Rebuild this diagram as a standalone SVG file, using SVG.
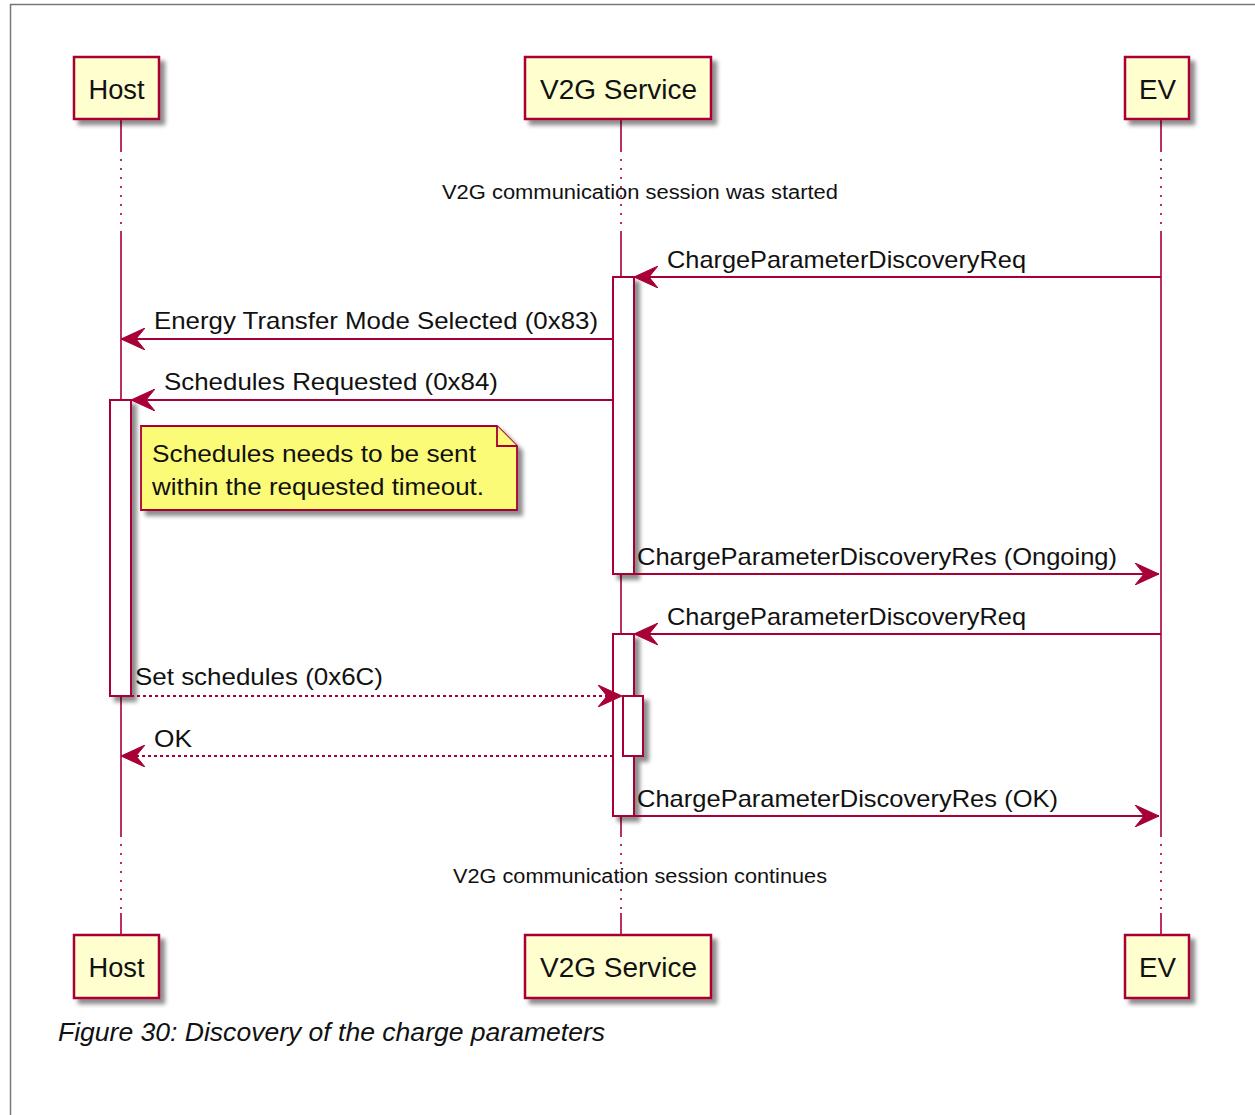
<svg xmlns="http://www.w3.org/2000/svg" width="1255" height="1115" viewBox="0 0 1255 1115">
<style>
.frame{fill:none;stroke:#777;stroke-width:1.5}
.pbox{fill:#FEFECE;stroke:#A80036;stroke-width:2.5}
.ptxt{font-family:"Liberation Sans",Arial,sans-serif;font-size:27px;fill:#111;text-anchor:middle}
.life{stroke:#A80036;stroke-width:1.6;fill:none}
.dot{stroke:#A80036;stroke-width:1.6;fill:none;stroke-dasharray:2,7}
.act{fill:#fff;stroke:#A80036;stroke-width:2}
.msg{stroke:#A80036;stroke-width:2;fill:none}
.dash{stroke:#A80036;stroke-width:1.8;fill:none;stroke-dasharray:3,3}
.head{fill:#A80036;stroke:#A80036;stroke-width:1}
.mtxt{font-family:"Liberation Sans",Arial,sans-serif;font-size:24px;fill:#111}
.dtxt{font-family:"Liberation Sans",Arial,sans-serif;font-size:20px;fill:#111;text-anchor:middle}
.note{fill:#FBFB77;stroke:#A80036;stroke-width:1.8}
.cap{font-family:"Liberation Sans",Arial,sans-serif;font-size:25px;font-style:italic;fill:#111}
</style>
<defs>
<filter id="sh" x="-20%" y="-20%" width="150%" height="150%">
<feGaussianBlur in="SourceAlpha" stdDeviation="2.2"/>
<feOffset dx="5" dy="5" result="b"/>
<feComponentTransfer><feFuncA type="linear" slope="0.45"/></feComponentTransfer>
<feMerge><feMergeNode/><feMergeNode in="SourceGraphic"/></feMerge>
</filter>
<marker id="ah" markerWidth="26" markerHeight="22" refX="24" refY="11" orient="auto" markerUnits="userSpaceOnUse">
<path d="M24,11 L0,0 L9,11 L0,22 Z" class="head"/>
</marker>
</defs>

<g id="frame">
<path class="frame" d="M10.5,1115 L10.5,4.5 L1255,4.5"/>
</g>

<g id="lifelines">
<path class="life" d="M121,120 V150 M121,232 V835 M121,913 V935"/>
<path class="dot" d="M121,150 V232 M121,835 V913"/>
<path class="life" d="M621,120 V150 M621,232 V835 M621,913 V935"/>
<path class="dot" d="M621,150 V232 M621,835 V913"/>
<path class="life" d="M1161,120 V150 M1161,232 V835 M1161,913 V935"/>
<path class="dot" d="M1161,150 V232 M1161,835 V913"/>
</g>

<g id="dividers">
<text class="dtxt" x="640" y="199" textLength="396" lengthAdjust="spacingAndGlyphs">V2G communication session was started</text>
<text class="dtxt" x="640" y="883" textLength="374" lengthAdjust="spacingAndGlyphs">V2G communication session continues</text>
</g>

<g id="host-top" filter="url(#sh)">
<rect class="pbox" x="74" y="57" width="85" height="62"/>
</g>
<text class="ptxt" x="116.5" y="99" textLength="56" lengthAdjust="spacingAndGlyphs">Host</text>
<g id="v2g-top" filter="url(#sh)">
<rect class="pbox" x="525" y="57" width="186" height="62"/>
</g>
<text class="ptxt" x="618.5" y="99" textLength="157" lengthAdjust="spacingAndGlyphs">V2G Service</text>
<g id="ev-top" filter="url(#sh)">
<rect class="pbox" x="1125" y="57" width="64" height="62"/>
</g>
<text class="ptxt" x="1157.5" y="99" textLength="37" lengthAdjust="spacingAndGlyphs">EV</text>

<g id="host-bottom" filter="url(#sh)">
<rect class="pbox" x="74" y="935" width="85" height="63"/>
</g>
<text class="ptxt" x="116.5" y="977" textLength="56" lengthAdjust="spacingAndGlyphs">Host</text>
<g id="v2g-bottom" filter="url(#sh)">
<rect class="pbox" x="525" y="935" width="186" height="63"/>
</g>
<text class="ptxt" x="618.5" y="977" textLength="157" lengthAdjust="spacingAndGlyphs">V2G Service</text>
<g id="ev-bottom" filter="url(#sh)">
<rect class="pbox" x="1125" y="935" width="64" height="63"/>
</g>
<text class="ptxt" x="1157.5" y="977" textLength="37" lengthAdjust="spacingAndGlyphs">EV</text>

<g id="activations" filter="url(#sh)">
<rect class="act" x="613" y="277" width="21" height="297"/>
<rect class="act" x="110" y="400" width="21" height="296"/>
<rect class="act" x="613" y="634" width="21" height="182"/>
<rect class="act" x="623" y="696" width="20" height="60"/>
</g>

<g id="note" filter="url(#sh)">
<path class="note" d="M141,426 H497 L517,446 V510 H141 Z"/>
<path class="note" d="M497,426 V446 H517"/>
</g>
<g id="note-text" class="mtxt">
<text x="152" y="462" textLength="324" lengthAdjust="spacingAndGlyphs">Schedules needs to be sent</text>
<text x="152" y="495" textLength="332" lengthAdjust="spacingAndGlyphs">within the requested timeout.</text>
</g>

<g id="connectors">
<path class="msg" d="M1161,277 H634" marker-end="url(#ah)"/>
<path class="msg" d="M613,339 H121" marker-end="url(#ah)"/>
<path class="msg" d="M613,400 H131" marker-end="url(#ah)"/>
<path class="msg" d="M634,574 H1159" marker-end="url(#ah)"/>
<path class="msg" d="M1161,634 H634" marker-end="url(#ah)"/>
<path class="dash" d="M131,696 H622" marker-end="url(#ah)"/>
<path class="dash" d="M613,756 H121" marker-end="url(#ah)"/>
<path class="msg" d="M634,816 H1159" marker-end="url(#ah)"/>
</g>

<g id="labels" class="mtxt">
<text x="667" y="268" textLength="359" lengthAdjust="spacingAndGlyphs">ChargeParameterDiscoveryReq</text>
<text x="154" y="329" textLength="444" lengthAdjust="spacingAndGlyphs">Energy Transfer Mode Selected (0x83)</text>
<text x="164" y="390" textLength="334" lengthAdjust="spacingAndGlyphs">Schedules Requested (0x84)</text>
<text x="637" y="565" textLength="480" lengthAdjust="spacingAndGlyphs">ChargeParameterDiscoveryRes (Ongoing)</text>
<text x="667" y="625" textLength="359" lengthAdjust="spacingAndGlyphs">ChargeParameterDiscoveryReq</text>
<text x="135" y="685" textLength="248" lengthAdjust="spacingAndGlyphs">Set schedules (0x6C)</text>
<text x="154" y="747" textLength="38" lengthAdjust="spacingAndGlyphs">OK</text>
<text x="637" y="807" textLength="421" lengthAdjust="spacingAndGlyphs">ChargeParameterDiscoveryRes (OK)</text>
</g>

<text class="cap" x="58" y="1041" textLength="547" lengthAdjust="spacingAndGlyphs">Figure 30: Discovery of the charge parameters</text>
</svg>
